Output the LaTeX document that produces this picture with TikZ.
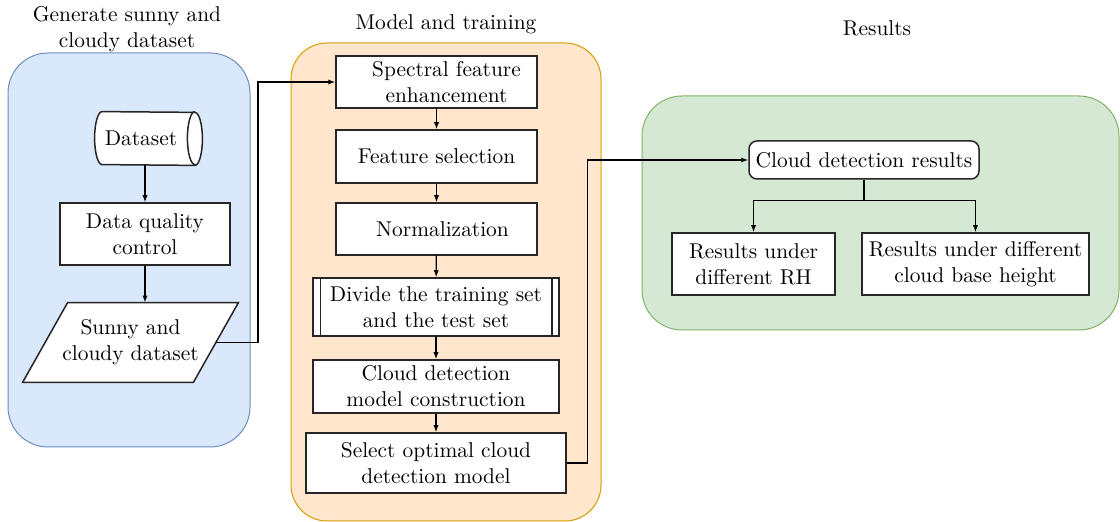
\documentclass[tikz,border=0pt]{standalone}
\usetikzlibrary{shapes.geometric,arrows.meta}
\definecolor{blueFill}{HTML}{DAE8FC}
\definecolor{blueLine}{HTML}{6C8EBF}
\definecolor{orangeFill}{HTML}{FFE6CC}
\definecolor{orangeLine}{HTML}{D79B00}
\definecolor{greenFill}{HTML}{D5E8D4}
\definecolor{greenLine}{HTML}{82B366}
\begin{document}
\begin{tikzpicture}[x=0.5pt,y=-0.5pt,
  every node/.style={font=\fontsize{10.7pt}{13pt}\selectfont},
  sz/.style n args={2}{minimum width=#1*0.5pt,minimum height=#2*0.5pt},
  edge/.style={line width=0.75pt, draw=black!85},
  box/.style={draw, edge, fill=white, align=center, inner sep=0pt},
  arr/.style={-{Latex[length=3.5pt,width=2.6pt]}, line width=0.6pt},
  panel/.style={line width=0.5pt, rounded corners=#1},
  title/.style={align=center, inner sep=0pt},
  ell/.style={x radius=3.75pt, y radius=13.25pt}]
\useasboundingbox (0,0) rectangle (1120,522);

% background panels
\draw[panel=20pt, fill=blueFill, draw=blueLine] (8,53) rectangle (250,447);
\draw[panel=18pt, fill=orangeFill, draw=orangeLine] (291,43) rectangle (601,521);
\draw[panel=20pt, fill=greenFill, draw=greenLine] (642,96) rectangle (1119,330);

% panel titles
\node[title] (t1) at (127,29) {Generate sunny and\\cloudy dataset};
\node[title] (t2) at (446,24) {Model and training};
\node[title] (t3) at (877,28) {Results};

% data generation: horizontal stored-data cylinder
\node[inner sep=0pt, sz={107}{53}] (dataset) at (148.5,138.5) {};
\draw[edge, fill=white]
  ([xshift=3.75pt]dataset.north west) arc[start angle=90, end angle=270, ell]
  -- ([xshift=-3.75pt]dataset.south east) arc[start angle=270, end angle=450, ell]
  -- cycle;
\draw[edge] ([xshift=-3.75pt]dataset.north east) arc[start angle=90, end angle=270, ell];
\node[inner sep=0pt] (datasetlabel) at (141,138.5) {Dataset};

\node[box, sz={170}{62}] (dq) at (145,234) {Data quality\\control};
% input/output parallelogram around a plain text node
\node[align=center, inner sep=0pt, sz={170}{79}] (sunny) at (130.5,342.5) {};
\draw[edge, fill=white]
  ([xshift=11.25pt]sunny.north west) -- ([xshift=11.25pt]sunny.north east)
  -- ([xshift=-11.25pt]sunny.south east) -- ([xshift=-11.25pt]sunny.south west) -- cycle;
\node[align=center, inner sep=0pt] (sunnylabel) at (sunny) {Sunny and\\cloudy dataset};

% model and training
\node[box, sz={201}{52}] (spectral) at (436.5,82) {\hspace*{10pt}Spectral feature\\\hspace*{10pt}enhancement};
\node[box, sz={201}{53}] (featsel) at (436.5,156.5) {Feature selection};
\node[box, sz={201}{52}] (norm) at (436.5,229) {\hspace*{6pt}Normalization};
\node[box, sz={246}{58}] (divide) at (436,307) {Divide the training set\\and the test set};
\draw[edge] ([xshift=4pt]divide.north west) -- ([xshift=4pt]divide.south west);
\draw[edge] ([xshift=-4pt]divide.north east) -- ([xshift=-4pt]divide.south east);
\node[box, sz={246}{53}] (construct) at (436,386.5) {Cloud detection\\model construction};
\node[box, sz={260}{60}] (select) at (436,463) {Select optimal cloud\\detection model};

% results
\node[box, rounded corners=4pt, sz={230}{38}] (results) at (864,160) {Cloud detection results};
\node[box, sz={163}{62}] (rh) at (753.5,264) {Results under\\different RH};
\node[box, sz={227}{62}] (cbh) at (975.5,264) {Results under different\\cloud base height};

% connectors
\draw[arr] (dataset.south -| dq.north) -- (dq.north);
\draw[arr] (dq.south) -- (dq.south |- sunny.north);
\draw[arr] (sunny.east) -- ++(42,0) |- (spectral.west);
\draw[arr] (spectral) -- (featsel);
\draw[arr] (featsel) -- (norm);
\draw[arr] (norm) -- (divide);
\draw[arr] (divide) -- (construct);
\draw[arr] (construct) -- (select);
\draw[arr] (select.east) -- ++(21,0) |- (results.west);
\draw[arr] (results.south) -- ++(0,21) -| (rh.north);
\draw[arr] (results.south) -- ++(0,21) -| (cbh.north);
\end{tikzpicture}
\end{document}
